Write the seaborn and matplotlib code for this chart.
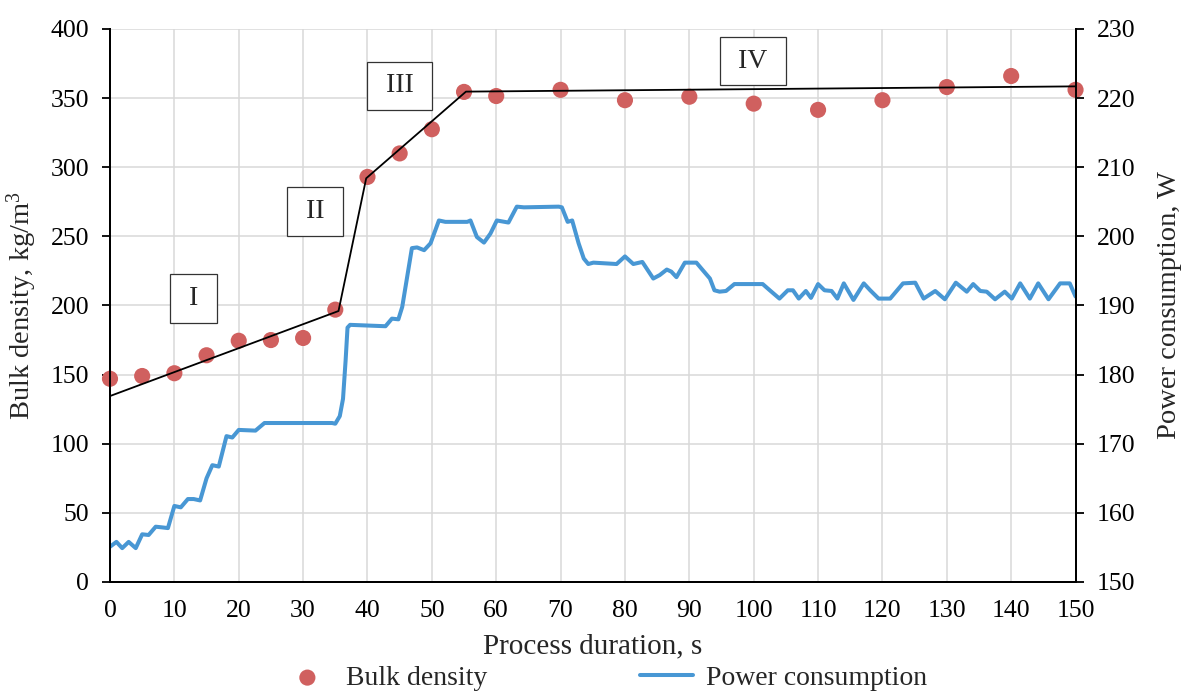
import numpy as np
import seaborn as sns
import matplotlib.pyplot as plt

# bulk density measurements
bd_time = [0, 5, 10, 15, 20, 25, 30, 35, 40, 45, 50, 55, 60, 70, 80, 90, 100, 110, 120, 130, 140, 150]
bd_value = [147, 149, 151, 164, 174.5, 175, 176.5, 197, 293, 310, 327.5, 354.5, 351.5, 356, 348.5, 351,
            346, 341.5, 348.5, 358, 366, 356]

# piecewise trend line through the four stages
trend_time = [0, 35.5, 39.8, 55.3, 150]
trend_value = [134.5, 196, 292, 354.7, 358.5]

# power consumption trace
pw_time = [0, 1.0, 1.9, 2.9, 4.0, 5.0, 6.0, 7.1, 8.1, 9.0, 10.0, 11.0, 12.1, 13.0, 14.0, 15.0, 15.9, 16.9,
           18.1, 19.0, 20.0, 22.6, 24.0, 34.5, 35.0, 35.7, 36.2, 36.6, 36.9, 37.3, 42.8, 43.8, 44.8, 45.4,
           46.9, 47.7, 48.8, 49.8, 51.1, 52.1, 55.5, 56.0, 57.0, 58.1, 59.1, 60.1, 61.9, 63.2, 64.3, 69.7,
           70.2, 71.1, 71.8, 72.8, 73.6, 74.3, 75.1, 78.7, 80.0, 81.3, 82.7, 84.4, 85.4, 86.5, 87.2, 88.0,
           89.3, 91.1, 92.1, 93.2, 93.9, 94.7, 95.7, 97.0, 101.4, 102.5, 104.0, 105.3, 106.1, 107.0, 108.1,
           108.9, 110.0, 111.0, 112.1, 113.0, 114.0, 115.5, 117.1, 118.1, 119.4, 121.2, 123.2, 125.1, 126.4,
           128.2, 129.7, 131.4, 133.1, 134.1, 135.2, 136.2, 137.5, 139.0, 140.1, 141.4, 142.9, 144.2, 145.8,
           147.6, 149.1, 150.0]
pw_value = [155.1, 155.8, 154.9, 155.8, 154.9, 156.9, 156.8, 158.0, 157.9, 157.8, 161.0, 160.8, 162.0, 162.0,
            161.8, 165.0, 166.9, 166.7, 171.1, 170.9, 172.0, 171.9, 173.0, 173.0, 172.9, 174.0, 176.5, 182.0,
            186.8, 187.2, 187.0, 188.1, 188.0, 189.8, 198.3, 198.4, 198.0, 199.0, 202.3, 202.1, 202.1, 202.3,
            199.9, 199.1, 200.4, 202.3, 202.0, 204.3, 204.2, 204.3, 204.2, 202.1, 202.3, 199.0, 196.8, 196.0,
            196.2, 196.0, 197.1, 196.0, 196.3, 193.9, 194.4, 195.2, 194.9, 194.1, 196.2, 196.2, 195.1, 193.9,
            192.2, 192.0, 192.1, 193.1, 193.1, 192.2, 191.0, 192.2, 192.2, 191.0, 192.1, 191.1, 193.1, 192.2,
            192.1, 191.0, 193.2, 190.8, 193.2, 192.2, 191.0, 191.0, 193.2, 193.3, 191.0, 192.1, 190.9, 193.3,
            192.0, 193.1, 192.1, 192.0, 190.9, 192.0, 191.0, 193.2, 191.0, 193.2, 190.9, 193.2, 193.2, 191.3]

# stage labels
stage_names = ['I', 'II', 'III', 'IV']
stage_time = [13.0, 31.9, 45.0, 99.85]
stage_value = [205, 268, 359, 376.7]

sns.set_style('white')
plt.rcParams['font.family'] = ['Liberation Serif', 'DejaVu Serif']
plt.rcParams['mathtext.fontset'] = 'custom'
plt.rcParams['mathtext.rm'] = 'Liberation Serif'
plt.rcParams['mathtext.it'] = 'Liberation Serif:italic'

red = '#D0605F'
blue = '#4897D4'

fig = plt.figure(figsize=(11.84, 6.97), dpi=100)
ax = fig.add_axes([0.0929, 0.165, 0.8155, 0.7934])
ax2 = ax.twinx()

sns.scatterplot(x=bd_time, y=bd_value, ax=ax, color=red, s=135, edgecolor='none',
                clip_on=False, zorder=3, legend=False)
ax.plot(trend_time, trend_value, color='black', lw=1.3, zorder=4)
sns.lineplot(x=pw_time, y=pw_value, ax=ax2, color=blue, lw=2.9, estimator=None, legend=False,
             solid_joinstyle='round', solid_capstyle='round')

for name, t, v in zip(stage_names, stage_time, stage_value):
    ax.text(t, v, ' ' + name + ' ', ha='center', va='center', fontsize=20, zorder=5,
            bbox=dict(boxstyle='square,pad=0.42', fc='white', ec='#333333', lw=0.9))

ax.set_xlim(0, 150)
ax.set_ylim(0, 400)
ax2.set_ylim(150, 230)
ax.set_xticks(np.arange(0, 151, 10))
ax.set_yticks(np.arange(0, 401, 50))
ax2.set_yticks(np.arange(150, 231, 10))

ax.grid(True, color='#D9D9D9', lw=1.1)
ax2.grid(False)
ax.set_axisbelow(True)

for a in (ax, ax2):
    a.spines['top'].set_visible(False)
    for s in ('left', 'right', 'bottom'):
        a.spines[s].set_color('black')
        a.spines[s].set_linewidth(1.4)
    a.tick_params(direction='out', length=6, width=1.3, pad=9, labelsize=18.5, colors='black')
ax.tick_params(axis='x', pad=7)

ax.set_xlabel('Process duration, s', fontsize=21)
ax.set_ylabel('Bulk density, kg/m$^3$', fontsize=20.5)
ax2.set_ylabel('Power consumption, W', fontsize=20.5)
ax.xaxis.set_label_coords(0.5, -0.093)
ax.yaxis.set_label_coords(-0.074, 0.5)
ax2.yaxis.set_label_coords(1.0844, 0.5)

handles = [ax.collections[0], ax2.lines[0]]
fig.legend(handles, ['Bulk density', 'Power consumption'], loc='center', bbox_to_anchor=(0.51, 0.027),
           ncol=2, frameon=False, fontsize=20, handlelength=1.9, handletextpad=0.45,
           columnspacing=5.5, borderpad=0)

fig.savefig('out.png', dpi=100)
